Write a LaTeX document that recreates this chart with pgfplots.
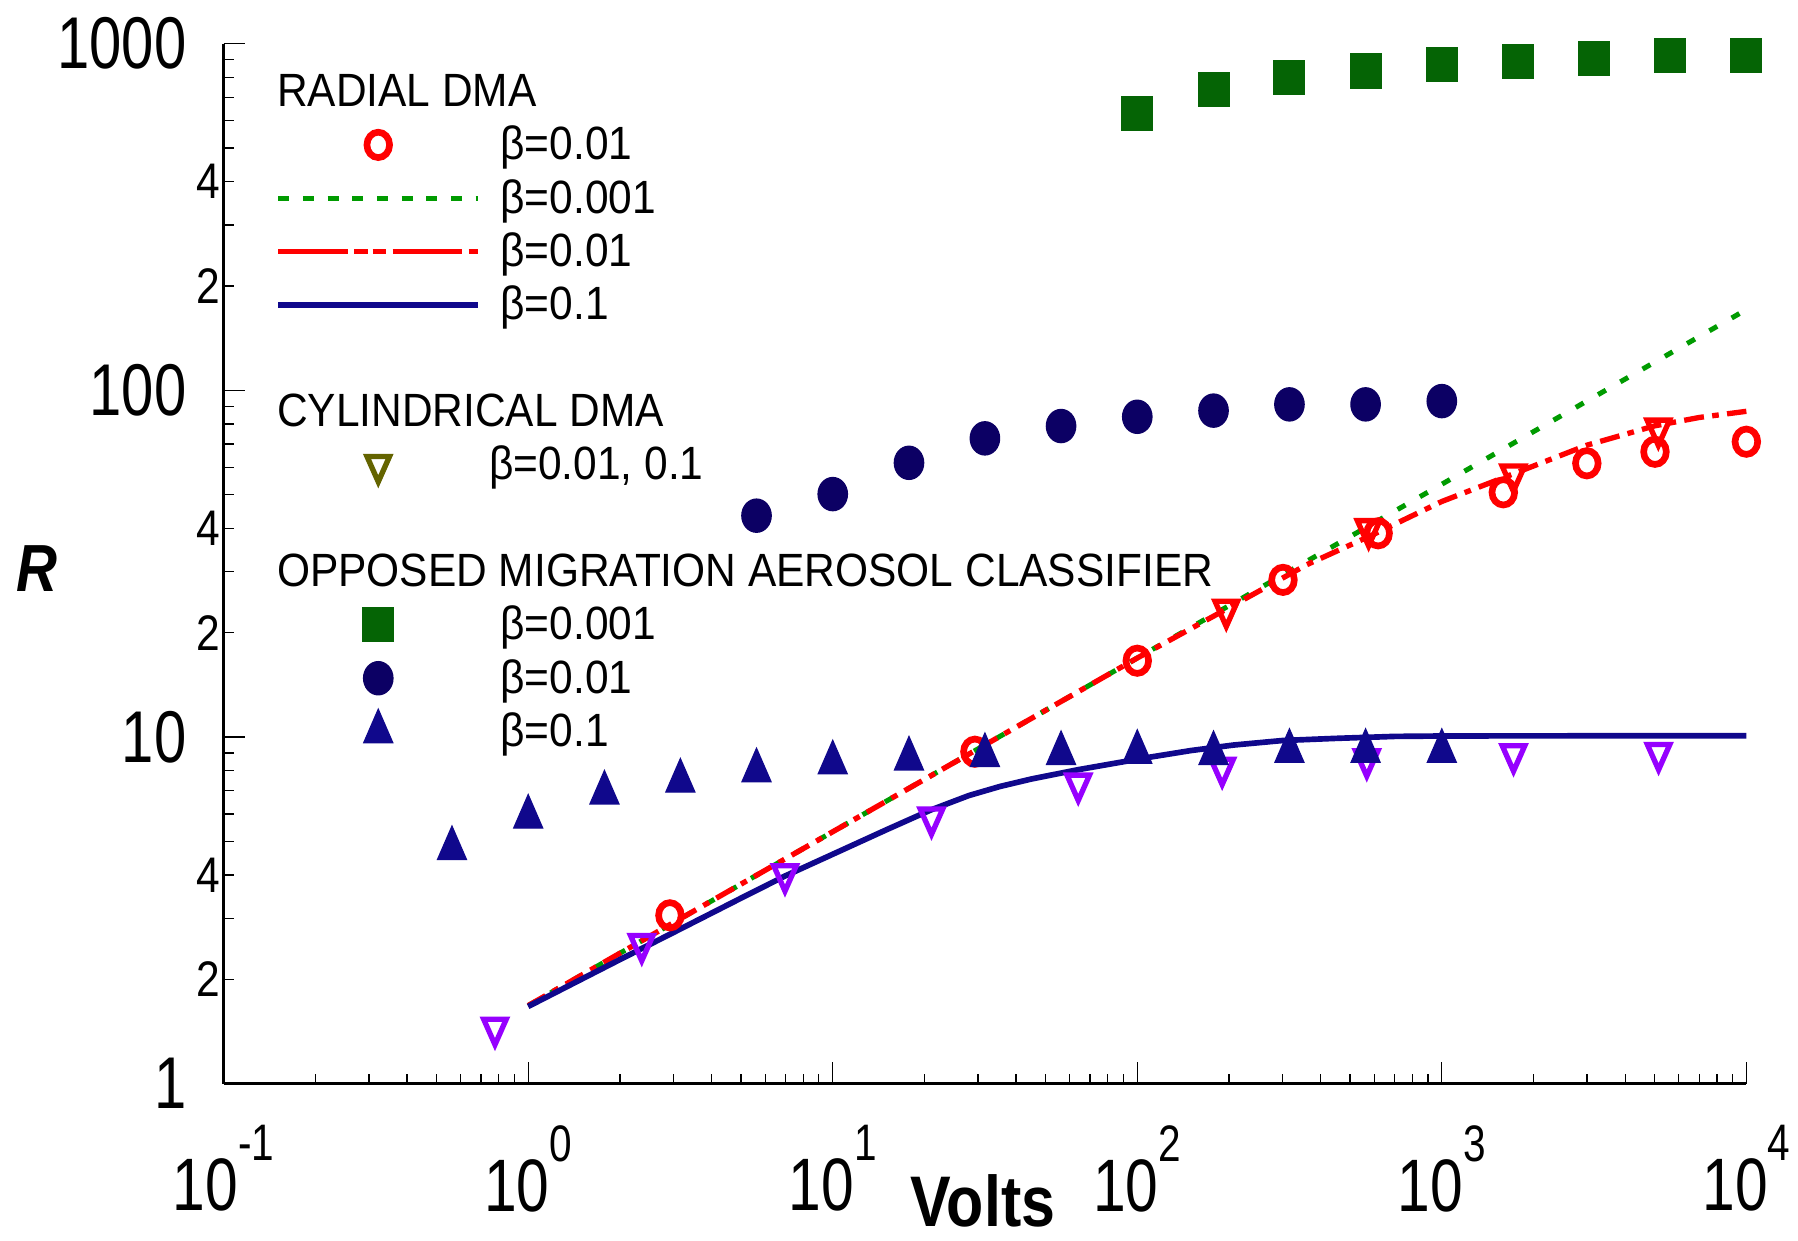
\documentclass[border=0pt]{standalone}
\usepackage{fontspec}
\setmainfont[FakeStretch=0.91]{Liberation Sans}
\newfontfamily\tickfont[FakeStretch=0.79]{Liberation Sans}
\newfontfamily\labfont[FakeStretch=0.85]{Liberation Sans}
\newfontfamily\plainsans{Liberation Sans}
\usepackage{pgfplots}
\pgfplotsset{compat=1.18}
\definecolor{cRed}{RGB}{255,0,0}
\definecolor{cGreenLine}{RGB}{0,155,0}
\definecolor{cDarkGreen}{RGB}{5,100,5}
\definecolor{cNavy}{RGB}{12,0,100}
\definecolor{cBlue}{RGB}{16,8,140}
\definecolor{cPurple}{RGB}{150,0,255}
\definecolor{cOlive}{RGB}{100,100,0}
\newcommand{\xl}[1]{10\raisebox{15pt}{\fontsize{15.4}{15.4}\selectfont #1}}
\pgfplotsset{
  legline/.style={legend image code/.code={\draw[##1] (0pt,0pt) -- (60pt,0pt);}},
  legmark/.style={legend image code/.code={\draw[##1] plot coordinates {(30pt,0pt)};}},
}
\begin{document}
\begin{tikzpicture}
\begin{axis}[
  name=ax,
  scale only axis, width=456.8pt, height=312pt,
  xmode=log, ymode=log,
  xmin=0.1, xmax=10000, ymin=1, ymax=1000,
  clip=false,
  axis x line*=bottom, axis y line*=left,
  axis line style={-, line width=0.9pt, black},
  every outer x axis line/.append style={-},
  every outer y axis line/.append style={-},
  tick align=inside,
  major tick length=6.5pt, minor tick length=3pt,
  tick style={line width=0.4pt, black},
  xtick={0.1,1,10,100,1000,10000},
  xticklabels={\xl{-1},\xl{0},\xl{1},\xl{2},\xl{3},\xl{4}},
  minor xtick={0.2,0.3,0.4,0.5,0.6,0.7,0.8,0.9,2,3,4,5,6,7,8,9,20,30,40,50,60,70,80,90,200,300,400,500,600,700,800,900,2000,3000,4000,5000,6000,7000,8000,9000},
  xticklabel style={font=\tickfont\fontsize{22.3}{22.3}\selectfont, inner sep=0pt, anchor=north, yshift=-12.4pt},
  ytick={1,10,100,1000},
  yticklabels={1,10,100,1000},
  minor ytick={2,3,4,5,6,7,8,9,20,30,40,50,60,70,80,90,200,300,400,500,600,700,800,900},
  yticklabel style={font=\tickfont\fontsize{22}{22}\selectfont, inner sep=0pt, anchor=east, xshift=-11pt},
  extra y ticks={2,4,20,40,200,400},
  extra y tick labels={2,4,2,4,2,4},
  extra y tick style={major tick length=0pt, yticklabel style={font=\labfont\fontsize{15}{15}\selectfont, xshift=10pt}},
  xlabel={Volts},
  every axis x label/.style={at={(axis description cs:0.4987,0)}, anchor=center, yshift=-35.2pt, font=\labfont\bfseries\fontsize{21.5}{21.5}\selectfont},
  ylabel={R},
  every axis y label/.style={at={(axis description cs:0,0.4949)}, anchor=center, xshift=-56.1pt, font=\labfont\bfseries\itshape\fontsize{20}{20}\selectfont},
  legend cell align=left,
  legend style={at={(0.034,0.978)}, anchor=north west, draw=none, fill=none,
    inner sep=0pt, outer sep=0pt, row sep=1pt, column sep=5.8pt,
    font=\fontsize{14}{15}\selectfont,
    nodes={inner sep=0pt, text height=12pt, text depth=3pt}},
]
% ---- model curves ----
\addplot[forget plot, cGreenLine, line width=1.5pt, dash pattern=on 2.7pt off 5pt] coordinates {
  (1,1.68) (10,5.33) (100,16.9) (1000,53.6) (10000,171)};
\addplot[forget plot, cRed, line width=1.6pt, dash pattern=on 6pt off 2.5pt on 2pt off 2.5pt] coordinates {
  (1,1.68) (10,5.33) (100,16.9) (200,23.6) (360,31.4) (600,38.5) (1000,47.8) (2000,60.5) (3000,69.5) (5000,79) (7000,83.5) (10000,87)};
\addplot[forget plot, cBlue, line width=1.7pt] coordinates {
  (1,1.67) (2,2.28) (3,2.73) (5,3.43) (7,3.98) (10,4.59) (15,5.40) (21,6.16) (28,6.78) (35.4,7.2) (45,7.57) (64,8.05) (85,8.41) (112,8.77) (150,9.14) (207,9.48) (300,9.77) (449,9.91) (700,10.04) (1047,10.07) (3000,10.08) (10000,10.08)};
% ---- radial DMA beta=0.01 symbols ----
\addplot[forget plot, only marks, mark=o, cRed, mark size=3.4pt, mark options={line width=2pt, yscale=1.12}] coordinates {
  (2.92,3.06) (29.3,9.07) (100,16.6) (301,28.4) (618,38.7) (1592,50.8) (2994,61.6) (5012,66.5) (10000,71.1)};
% ---- cylindrical DMA ----
\addplot[forget plot, only marks, mark=triangle, cPurple, mark size=3.9pt, mark options={rotate=180, yscale=1.3, line width=1.6pt}] coordinates {
  (0.778,1.45) (2.36,2.53) (6.97,4.02) (21.1,5.86) (64,7.34) (190,8.16) (567,8.63) (1720,8.92) (5150,9.0)};
\addplot[forget plot, only marks, mark=triangle, cRed, mark size=3.9pt, mark options={rotate=180, yscale=1.3, line width=1.6pt}] coordinates {
  (196,23.3) (575,39.8) (1718,57.2) (5140,77.6)};
% ---- OMAC ----
\addplot[forget plot, only marks, mark=square*, cDarkGreen, mark size=4.6pt, mark options={yscale=1.1}] coordinates {
  (100,627) (178,738) (316,801) (562,834) (1000,869) (1778,887) (3162,904) (5623,925) (10000,925)};
\addplot[forget plot, only marks, mark=*, cNavy, mark size=4.4pt, mark options={yscale=1.13}] coordinates {
  (5.62,43.5) (10,50.2) (17.8,61.8) (31.6,72.7) (56.2,78.9) (100,83.9) (178,87.4) (316,91.1) (562,91.1) (1000,93.1)};
\addplot[forget plot, only marks, mark=triangle*, cBlue, mark size=5pt, mark options={yscale=1.33}] coordinates {
  (0.562,4.77) (1,5.88) (1.78,6.9) (3.16,7.47) (5.62,8.0) (10,8.43) (17.8,8.65) (31.6,8.85) (56.2,8.97) (100,9.04) (178,8.97) (316,9.1) (562,9.1) (1000,9.1)};
% ---- legend ----
\addlegendimage{empty legend}\addlegendentry{\hspace*{-67pt}RADIAL DMA}
\addlegendimage{only marks, mark=o, cRed, mark size=3.4pt, mark options={line width=2pt, yscale=1.12}, legmark}\addlegendentry{β=0.01}
\addlegendimage{cGreenLine, line width=1.4pt, dash pattern=on 3.3pt off 4.1pt, legline}\addlegendentry{β=0.001}
\addlegendimage{cRed, line width=1.5pt, dash pattern=on 20.8pt off 2pt on 4pt off 1.5pt on 4pt off 2pt, legline}\addlegendentry{β=0.01}
\addlegendimage{cBlue, line width=1.7pt, legline}\addlegendentry{β=0.1}
\addlegendimage{empty legend}\addlegendentry{}
\addlegendimage{empty legend}\addlegendentry{\hspace*{-67pt}CYLINDRICAL DMA}
\addlegendimage{only marks, mark=triangle, cOlive, mark size=3.9pt, mark options={rotate=180, yscale=1.3, line width=1.6pt}, legmark}\addlegendentry{\hspace*{-3.4pt}β=0.01, 0.1}
\addlegendimage{empty legend}\addlegendentry{}
\addlegendimage{empty legend}\addlegendentry{\hspace*{-67pt}OPPOSED MIGRATION AEROSOL CLASSIFIER}
\addlegendimage{only marks, mark=square*, cDarkGreen, mark size=4.6pt, mark options={yscale=1.1}, legmark}\addlegendentry{β=0.001}
\addlegendimage{only marks, mark=*, cNavy, mark size=4.4pt, mark options={yscale=1.13}, legmark}\addlegendentry{β=0.01}
\addlegendimage{only marks, mark=triangle*, cBlue, mark size=5pt, mark options={yscale=1.33}, legmark}\addlegendentry{β=0.1}
\end{axis}
\pgfresetboundingbox
\path (ax.south west) ++(-67.1pt,-46.9pt) rectangle ++(539.4pt,372pt);
\end{tikzpicture}
\end{document}
